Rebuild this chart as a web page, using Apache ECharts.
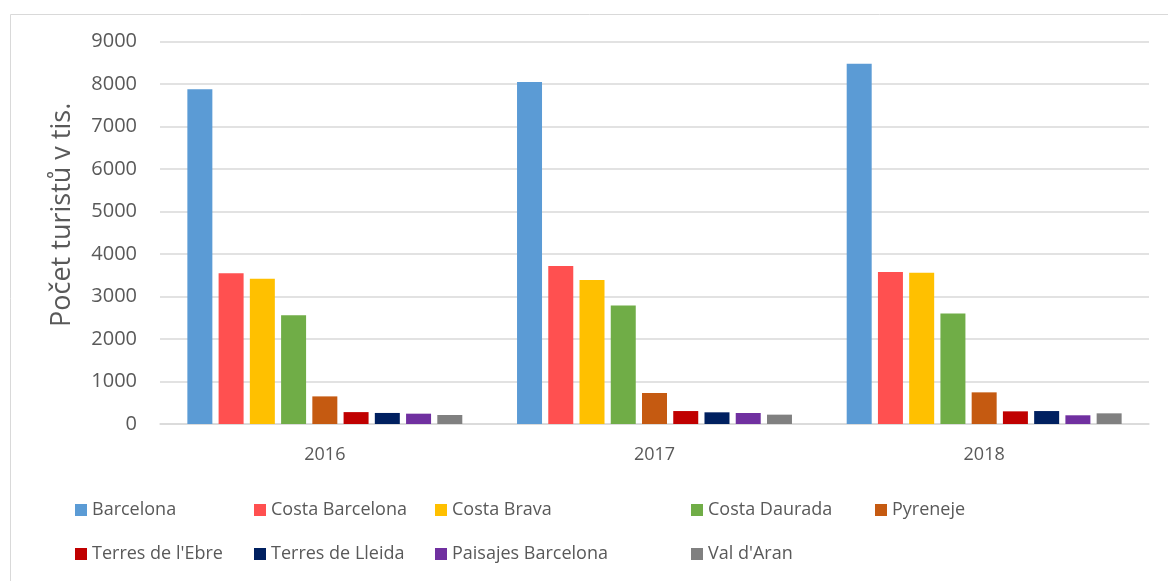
<!DOCTYPE html>
<html>
<head>
<meta charset="utf-8">
<script src="https://cdn.jsdelivr.net/npm/echarts@6/dist/echarts.min.js"></script>
<style>
  html, body { margin: 0; padding: 0; background: #fff; }
  #chart { width: 1168px; height: 581px; }
</style>
</head>
<body>
<div id="chart"></div>
<script>
const years = ["2016", "2017", "2018"];

const regions = [
  "Barcelona", "Costa Barcelona", "Costa Brava", "Costa Daurada", "Pyreneje",
  "Terres de l'Ebre", "Terres de Lleida", "Paisajes Barcelona", "Val d'Aran"
];

const colors = [
  "#5b9bd5", "#ff5050", "#ffc000", "#70ad47", "#c55a11",
  "#c00000", "#002060", "#7030a0", "#808080"
];

// počty turistů v tis. po letech 2016, 2017, 2018
const barcelona = [7880, 8050, 8480];
const costaBarcelona = [3550, 3720, 3580];
const costaBrava = [3420, 3390, 3560];
const costaDaurada = [2560, 2790, 2600];
const pyreneje = [650, 730, 745];
const terresEbre = [280, 305, 298];
const terresLleida = [260, 275, 305];
const paisajesBarcelona = [243, 259, 205];
const valDAran = [212, 220, 251];

const values = [
  barcelona, costaBarcelona, costaBrava, costaDaurada, pyreneje,
  terresEbre, terresLleida, paisajesBarcelona, valDAran
];

const yTicks = [0, 1000, 2000, 3000, 4000, 5000, 6000, 7000, 8000, 9000];

// sloupce legendy jako v Excelu
const legendColumns = [
  { left: 75, names: ["Barcelona", "Terres de l'Ebre"] },
  { left: 254, names: ["Costa Barcelona", "Terres de Lleida"] },
  { left: 435, names: ["Costa Brava", "Paisajes Barcelona"] },
  { left: 691, names: ["Costa Daurada", "Val d'Aran"] },
  { left: 875, names: ["Pyreneje"] },
];

const textColor = "#595959";
const font = "'Open Sans', 'DejaVu Sans', sans-serif";

const chart = echarts.init(document.getElementById("chart"));

const option = {
  animation: false,
  textStyle: { fontFamily: font },
  graphic: [
    {
      type: "rect",
      left: 8,
      top: 12,
      shape: { width: 1200, height: 620 },
      style: { fill: "none", stroke: "#d9d9d9", lineWidth: 1 },
      silent: true,
    },
  ],
  grid: {
    left: 160,
    right: 19,
    top: 41.7,
    bottom: 157,
  },
  legend: legendColumns.map((col) => ({
    left: col.left,
    top: 501,
    padding: 0,
    orient: "vertical",
    itemGap: 26,
    itemWidth: 12,
    itemHeight: 12,
    icon: "rect",
    data: col.names,
    textStyle: { color: textColor, fontSize: 18, fontFamily: font },
  })),
  xAxis: {
    type: "category",
    data: years,
    axisLine: { lineStyle: { color: "#d9d9d9", width: 1.5 } },
    axisTick: { show: false },
    axisLabel: { color: textColor, fontSize: 18, margin: 22 },
  },
  yAxis: {
    type: "value",
    min: yTicks[0],
    max: yTicks[yTicks.length - 1],
    interval: 1000,
    name: "Počet turistů v tis.",
    nameLocation: "middle",
    nameGap: 84,
    nameTextStyle: { color: textColor, fontSize: 27, padding: [0, 0, 0, 36] },
    axisLine: { show: false },
    axisTick: { show: false },
    axisLabel: {
      color: textColor,
      fontSize: 20,
      margin: 23,
      formatter: (v) => String(v),
    },
    splitLine: { lineStyle: { color: "#d9d9d9", width: 1.5 } },
  },
  series: regions.map((name, i) => ({
    name: name,
    type: "bar",
    data: values[i],
    barGap: "25%",
    barCategoryGap: "16.6%",
    itemStyle: { color: colors[i] },
  })),
};

chart.setOption(option);
</script>
</body>
</html>
